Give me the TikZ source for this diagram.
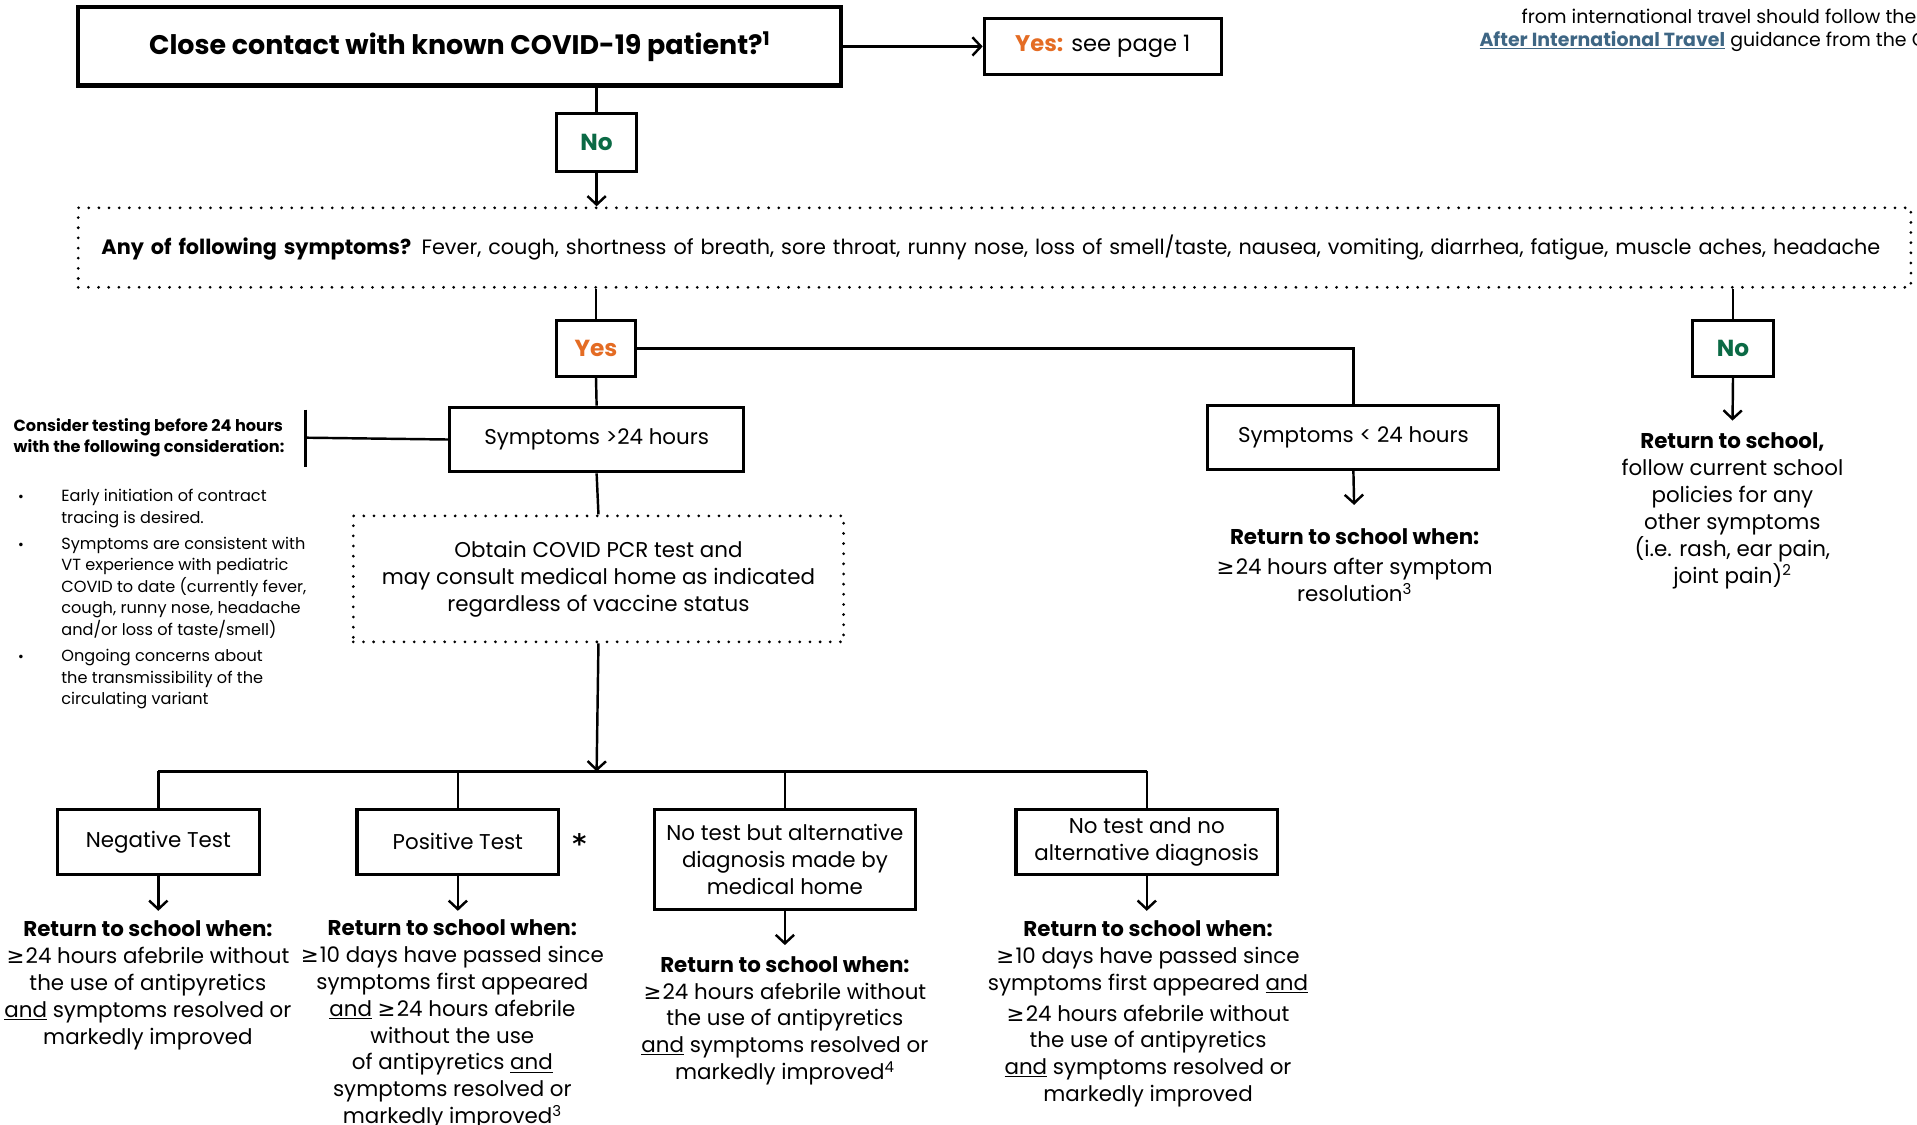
\documentclass[tikz,border=0pt]{standalone}
\usepackage{fontspec}
\setmainfont{Poppins}
\newfontfamily\symfont{DejaVu Sans}
\usetikzlibrary{arrows.meta}

\definecolor{yesorange}{HTML}{E46C24}
\definecolor{nogreen}{HTML}{0B6A45}
\definecolor{linkblue}{HTML}{3E6684}

\newcommand{\gte}{{\symfont ≥}\kern1pt}
\newcommand{\sups}[1]{\textsuperscript{#1}}
\newcommand{\hd}[1]{{\bfseries\fontsize{17.5}{22}\selectfont #1}}

\begin{document}
\begin{tikzpicture}[x=1pt,y=-1pt,font=\fontsize{17.5}{22}\selectfont,
    >={Straight Barb[length=7pt,width=15pt]}]

  \useasboundingbox (0,0) rectangle (1568,920);
  \clip (0,0) rectangle (1568,920);

  % Boxes
  \begin{scope}[every node/.style={draw,line width=2.5pt,inner sep=0pt,align=center}]
    \node[line width=3.5pt,minimum width=624pt,minimum height=64pt,
      font=\bfseries\fontsize{22}{24}\selectfont] (contact) at (376,38)
      {Close contact with known COVID-19 patient?\sups{1}};
    \node[minimum width=194pt,minimum height=46pt,font=\fontsize{18.5}{22}\selectfont] (yespage) at (902,38)
      {{\bfseries\color{yesorange}Yes:} see page 1};

    \node[minimum width=65pt,minimum height=47pt,font=\bfseries\fontsize{19}{22}\selectfont,
      text=nogreen] (no1) at (488,116.5) {No};
    \node[minimum width=65pt,minimum height=46pt,font=\bfseries\fontsize{19}{22}\selectfont,
      text=yesorange] (yes1) at (487.5,285) {Yes};
    \node[minimum width=66pt,minimum height=46pt,font=\bfseries\fontsize{19}{22}\selectfont,
      text=nogreen] (no2) at (1417.5,285) {No};

    \node[minimum width=240pt,minimum height=53pt] (gt24) at (488,359.5) {Symptoms >24 hours};
    \node[minimum width=238pt,minimum height=52pt] (lt24) at (1107,358) {Symptoms < 24 hours};

    \node[minimum width=165pt,minimum height=53pt] (neg) at (129.5,688.5) {Negative Test};
    \node[minimum width=165pt,minimum height=53pt] (pos) at (374.5,688.5) {Positive Test};
    \node[minimum width=214pt,minimum height=82pt] (alt) at (642,703)
      {No test but alternative\\diagnosis made by\\medical home};
    \node[minimum width=214pt,minimum height=53pt] (noalt) at (938,688.5)
      {No test and no\\alternative diagnosis};
  \end{scope}

  % Dotted boxes
  \begin{scope}[every node/.style={draw,line width=2.5pt,line cap=round,
      dash pattern=on 0pt off 8.3pt,inner sep=0pt}]
    \node[text width=1461pt,inner xsep=19pt,minimum height=65pt,align=left,
      font=\fontsize{17}{22}\selectfont] (symq) at (813.5,202.5)
      {\textbf{Any of following symptoms?} Fever, cough, shortness of breath, sore throat, runny nose, loss of smell/taste, nausea, vomiting, diarrhea, fatigue, muscle aches, headache};
    \node[minimum width=401pt,minimum height=103pt,align=center] (pcr) at (489.5,473.5)
      {Obtain COVID PCR test and\\may consult medical home as indicated\\regardless of vaccine status};
  \end{scope}

  % Texts
  \begin{scope}[every node/.style={align=center,inner sep=0pt,anchor=north}]
    \node (retno) at (1417,354) {\hd{Return to school,}\\follow current school\\policies for any\\other symptoms\\(i.e. rash, ear pain,\\joint pain)\sups{2}};
    \node (retlt) at (1108,432) {\hd{Return to school when:}\\[3pt]\gte 24 hours after symptom\\resolution\sups{3}};
    \node (retneg) at (121,753) {\hd{Return to school when:}\\\gte 24 hours afebrile without\\the use of antipyretics\\\underline{and} symptoms resolved or\\markedly improved};
    \node (retpos) at (370,752) {\hd{Return to school when:}\\\gte 10 days have passed since\\symptoms first appeared\\\underline{and} \gte 24 hours afebrile\\without the use\\of antipyretics \underline{and}\\symptoms resolved or\\markedly improved\sups{3}};
    \node (retalt) at (642,782) {\hd{Return to school when:}\\\gte 24 hours afebrile without\\the use of antipyretics\\\underline{and} symptoms resolved or\\markedly improved\sups{4}};
    \node (retnoalt) at (939,753) {\hd{Return to school when:}\\\gte 10 days have passed since\\symptoms first appeared \underline{and}\\[3pt]\gte 24 hours afebrile without\\the use of antipyretics\\\underline{and} symptoms resolved or\\markedly improved};
    \node[font=\symfont\bfseries\fontsize{22}{22}\selectfont,anchor=center] (star) at (474,690) {*};
    \node[font=\fontsize{15.5}{19}\selectfont] (travel) at (1406,7)
      {from international travel should follow the\\
       {\bfseries\color{linkblue}\underline{After International Travel}} guidance from the CDC.};
  \end{scope}

  % Side note
  \begin{scope}[every node/.style={align=left,inner sep=0pt,anchor=north west,
      font=\fontsize{13.2}{17.5}\selectfont}]
    \node (cnote) at (11,342) {\textbf{Consider testing before 24 hours}\\\textbf{with the following consideration:}};
    \node (bullets) at (11,398) {%
      \begin{tabular}{@{}p{39pt}@{}l@{}}
        \hspace{3pt}{\symfont\fontsize{10}{12}\selectfont •} & Early initiation of contract\\
          & tracing is desired.\\[4pt]
        \hspace{3pt}{\symfont\fontsize{10}{12}\selectfont •} & Symptoms are consistent with\\
          & VT experience with pediatric\\
          & COVID to date (currently fever,\\
          & cough, runny nose, headache\\
          & and/or loss of taste/smell)\\[4pt]
        \hspace{3pt}{\symfont\fontsize{10}{12}\selectfont •} & Ongoing concerns about\\
          & the transmissibility of the\\
          & circulating variant
      \end{tabular}};
  \end{scope}

  % Junctions
  \coordinate (bar) at (488,631);
  \coordinate (barL) at (neg.north |- bar);
  \coordinate (barR) at (noalt.north |- bar);
  \coordinate (brkT) at (250,335);
  \coordinate (brkB) at (250,382);
  \coordinate (brk) at (250,358);

  % Connectors
  \begin{scope}[every edge/.style={draw,line width=2pt}]
    \path (contact.east) edge[->] (yespage.west);
    \path (contact.south -| no1) edge (no1.north);
    \path (no1.south) edge[->] (symq.north -| no1);
    \path (symq.south -| yes1) edge (yes1.north);
    \path (symq.south -| no2) edge (no2.north);
    \path (yes1.south) edge (gt24.north);
    \path (yes1.east) edge[to path={-| (\tikztotarget)}] (lt24.north);
    \path (no2.south) edge[->,shorten >=10pt] (retno.north);
    \path (lt24.south) edge[->,shorten >=19pt] (retlt.north);
    \path (gt24.south) edge (pcr.north);
    \path (brkT) edge[line width=2.5pt] (brkB);
    \path (brk) edge (gt24.west);
    \path (pcr.south) edge[->] (bar);
    \path (barL) edge (barR);
    \path (barL) edge (neg.north);
    \path (pos.north |- bar) edge (pos.north);
    \path (alt.north |- bar) edge (alt.north);
    \path (barR) edge (noalt.north);
    \path (neg.south) edge[->,shorten >=8pt] (neg.south |- retneg.north);
    \path (pos.south) edge[->,shorten >=7pt] (pos.south |- retpos.north);
    \path (alt.south) edge[->,shorten >=9pt] (retalt.north);
    \path (noalt.south) edge[->,shorten >=8pt] (noalt.south |- retnoalt.north);
  \end{scope}

\end{tikzpicture}
\end{document}
